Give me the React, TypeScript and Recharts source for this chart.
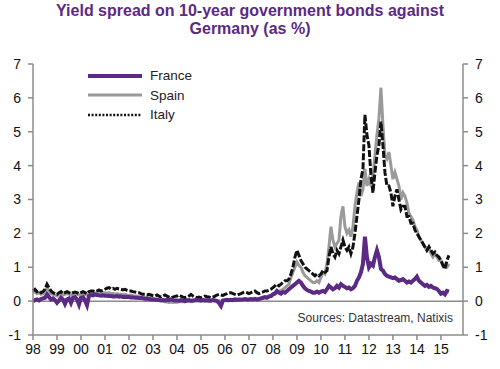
import {
  Line,
  LineChart,
  ReferenceLine,
  XAxis,
  YAxis,
} from 'recharts'

// monthly spreads vs Bund, Jan 1998 -> May 2015
const startYear = 1998

const france = [
  0.0, 0.03, 0.05, 0.02, 0.06, 0.08, 0.1, 0.2, 0.12, 0.05, 0.08, 0.03,
  -0.05, 0.02, 0.1, 0.05, -0.08, 0.05, 0.08, -0.05, 0.1, 0.12, 0.05, -0.1,
  0.1, 0.12, 0.02, -0.12, 0.15, 0.18, 0.17, 0.2, 0.18, 0.17, 0.16, 0.17,
  0.16, 0.16, 0.15, 0.15, 0.14, 0.14, 0.15, 0.13, 0.14, 0.12, 0.13, 0.12,
  0.12, 0.11, 0.11, 0.1, 0.1, 0.09, 0.1, 0.08, 0.07, 0.07, 0.06, 0.05,
  0.05, 0.04, 0.04, 0.03, 0.02, 0.03, 0.02, 0.04, 0.03, 0.05, 0.03, 0.02,
  0.02, 0.01, 0.03, 0.02, 0.0, 0.02, 0.03, 0.01, 0.02, 0.03, 0.04, 0.03,
  0.02, 0.03, 0.02, 0.03, 0.01, 0.02, 0.03, 0.02, 0.0, -0.05, -0.14, 0.02,
  0.03, 0.04, 0.03, 0.04, 0.03, 0.05, 0.04, 0.05, 0.04, 0.05, 0.06, 0.05,
  0.05, 0.06, 0.05, 0.07, 0.05, 0.06, 0.08, 0.1, 0.12, 0.1, 0.14, 0.15,
  0.2, 0.22, 0.3, 0.25, 0.22, 0.27, 0.25, 0.3, 0.35, 0.4, 0.45, 0.5,
  0.55, 0.6, 0.55, 0.45, 0.38, 0.33, 0.3, 0.28, 0.25, 0.25, 0.28, 0.25,
  0.28, 0.3, 0.27, 0.35, 0.45, 0.4, 0.35, 0.38, 0.45, 0.4, 0.5, 0.45,
  0.42, 0.38, 0.4, 0.35, 0.38, 0.45, 0.6, 0.7, 0.85, 1.1, 1.9, 1.3,
  1.0, 1.1, 1.05, 1.3, 1.5, 1.3, 0.95, 0.9, 0.8, 0.75, 0.72, 0.7,
  0.68, 0.7, 0.65, 0.6, 0.62, 0.65, 0.6, 0.55, 0.58, 0.55, 0.6, 0.65,
  0.72, 0.6, 0.55, 0.5, 0.45, 0.48, 0.42, 0.45, 0.4, 0.38, 0.36, 0.3,
  0.22, 0.25, 0.2, 0.3, 0.28,
]

const spain = [
  0.25, 0.28, 0.22, 0.25, 0.2, 0.22, 0.3, 0.4, 0.3, 0.22, 0.2, 0.18,
  0.15, 0.2, 0.22, 0.18, 0.2, 0.22, 0.2, 0.18, 0.2, 0.22, 0.2, 0.18,
  0.2, 0.22, 0.2, 0.18, 0.22, 0.25, 0.25, 0.22, 0.25, 0.28, 0.25, 0.25,
  0.25, 0.23, 0.25, 0.22, 0.23, 0.2, 0.22, 0.2, 0.2, 0.18, 0.2, 0.18,
  0.17, 0.18, 0.16, 0.15, 0.15, 0.13, 0.12, 0.12, 0.1, 0.1, 0.1, 0.08,
  0.07, 0.06, 0.05, 0.03, 0.02, 0.0, -0.02, -0.03, -0.04, -0.03, -0.04, -0.03,
  -0.03, -0.02, -0.02, -0.01, -0.02, 0.0, 0.0, -0.02, -0.01, 0.0, 0.01, 0.0,
  0.0, 0.01, 0.0, 0.0, 0.01, 0.0, 0.02, 0.01, 0.0, 0.01, 0.0, 0.02,
  0.02, 0.01, 0.02, 0.03, 0.02, 0.03, 0.02, 0.03, 0.02, 0.04, 0.03, 0.04,
  0.04, 0.03, 0.04, 0.05, 0.04, 0.05, 0.06, 0.08, 0.1, 0.1, 0.12, 0.15,
  0.22, 0.25, 0.3, 0.28, 0.32, 0.35, 0.4, 0.45, 0.5, 0.7, 0.85, 1.0,
  1.15, 1.05, 1.0, 0.85, 0.75, 0.7, 0.65, 0.6, 0.55, 0.55, 0.6, 0.55,
  0.7, 0.85, 0.8, 1.1, 1.6, 2.2, 1.8, 1.6, 1.7, 1.8, 2.5, 2.8,
  2.2, 2.0, 2.1, 1.9, 2.2, 2.8, 3.2, 3.5, 3.1, 3.3, 3.9, 3.4,
  3.6, 3.4, 3.7, 4.3, 4.9, 5.4, 6.3, 5.2, 4.3, 4.2, 4.4, 4.0,
  3.6, 3.8, 3.6, 3.4, 3.0, 3.2, 3.1, 2.9, 2.6, 2.5, 2.4, 2.2,
  2.1, 1.9, 1.8, 1.7, 1.6, 1.5, 1.6, 1.4, 1.3, 1.4, 1.3, 1.2,
  1.2, 1.1, 1.0, 1.0, 1.1,
]

const italy = [
  0.3, 0.35, 0.28, 0.3, 0.25, 0.28, 0.35, 0.5, 0.4, 0.3, 0.25, 0.22,
  0.2, 0.25, 0.28, 0.22, 0.25, 0.28, 0.25, 0.22, 0.25, 0.27, 0.25, 0.22,
  0.25, 0.28, 0.25, 0.22, 0.28, 0.3, 0.3, 0.28, 0.3, 0.33, 0.3, 0.32,
  0.35, 0.38, 0.4, 0.36, 0.38, 0.35, 0.38, 0.36, 0.35, 0.33, 0.35, 0.32,
  0.3, 0.3, 0.28, 0.27, 0.25, 0.25, 0.22, 0.2, 0.2, 0.18, 0.2, 0.18,
  0.16, 0.15, 0.18, 0.15, 0.12, 0.15, 0.18, 0.15, 0.12, 0.1, 0.12, 0.14,
  0.15, 0.18, 0.15, 0.12, 0.1, 0.12, 0.15, 0.2, 0.15, 0.12, 0.1, 0.12,
  0.1, 0.12, 0.15, 0.13, 0.12, 0.1, 0.12, 0.15, 0.18, 0.2, 0.18, 0.17,
  0.2, 0.22, 0.25, 0.25, 0.22, 0.2, 0.18, 0.2, 0.22, 0.25, 0.27, 0.25,
  0.22, 0.25, 0.27, 0.3, 0.25, 0.22, 0.25, 0.27, 0.3, 0.3, 0.32, 0.35,
  0.4, 0.45, 0.5, 0.45, 0.5, 0.55, 0.6, 0.6, 0.65, 0.8, 1.0, 1.3,
  1.5, 1.35, 1.2, 1.1, 1.0, 0.95, 0.9, 0.85, 0.8, 0.75, 0.8, 0.75,
  0.8, 0.9, 0.85, 0.9, 1.3, 1.6, 1.4, 1.3, 1.5, 1.4, 1.6, 1.8,
  1.6, 1.5, 1.6, 1.4, 1.6, 2.0, 2.5, 3.0, 3.6, 3.9, 5.5, 4.9,
  4.6, 3.7, 3.2, 3.8, 4.3, 4.6, 5.3, 4.6, 3.8, 3.4, 3.4, 3.2,
  2.8, 3.1, 3.3, 3.0, 2.7, 2.8, 2.8, 2.5, 2.5, 2.3, 2.3, 2.1,
  2.0, 1.9, 1.8, 1.7, 1.6, 1.5, 1.6, 1.5, 1.4, 1.45, 1.35, 1.3,
  1.2, 1.05, 0.95, 1.2, 1.35,
]

const yearLabels = ['98', '99', '00', '01', '02', '03', '04', '05', '06', '07', '08', '09', '10', '11', '12', '13', '14', '15']
const yTicks = [-1, 0, 1, 2, 3, 4, 5, 6, 7]

const font = 'Arial, "Liberation Sans", sans-serif'
const purple = '#5b2a84'

const data = france.map((v, i) => ({
  t: startYear + i / 12,
  france: v,
  spain: spain[i],
  italy: italy[i],
}))

const legendItems = [
  { name: 'France', color: purple, width: 4, dash: undefined },
  { name: 'Spain', color: '#9a9a9a', width: 3, dash: undefined },
  { name: 'Italy', color: '#111', width: 2.5, dash: '2 1.6' },
]

function SpreadLegend() {
  return (
    <div style={{ position: 'absolute', top: 66, left: 86, fontFamily: font, fontSize: 13.5, color: '#222' }}>
      {legendItems.map((item) => (
        <div key={item.name} style={{ display: 'flex', alignItems: 'center', height: 19.5 }}>
          <svg width={58} height={8}>
            <line x1={2} y1={4} x2={56} y2={4} stroke={item.color} strokeWidth={item.width} strokeDasharray={item.dash} />
          </svg>
          <span style={{ marginLeft: 6 }}>{item.name}</span>
        </div>
      ))}
    </div>
  )
}

export default function App() {
  const axisStyle = { stroke: '#8c8c8c', strokeWidth: 1.5 }
  const tickStyle = { fontSize: 14, fill: '#111', fontFamily: font }

  return (
    <div style={{ position: 'absolute', top: 0, left: 0, width: 500, height: 369, background: '#fff' }}>
      <div
        style={{
          position: 'absolute',
          top: 2,
          left: 0,
          width: 500,
          textAlign: 'center',
          fontFamily: font,
          fontWeight: 'bold',
          fontSize: 16,
          lineHeight: '18px',
          color: purple,
        }}
      >
        Yield spread on 10-year government bonds against
        <br />
        Germany (as %)
      </div>

      <LineChart width={500} height={369} data={data} margin={{ top: 64, right: 7, left: 3, bottom: 4 }}>
        <XAxis
          dataKey="t"
          type="number"
          domain={[startYear, 2015.92]}
          ticks={yearLabels.map((_, i) => startYear + i)}
          tickFormatter={(v) => yearLabels[Math.round(v - startYear)]}
          axisLine={axisStyle}
          tickLine={axisStyle}
          tickSize={5}
          tickMargin={4}
          tick={tickStyle}
          height={30}
          interval={0}
        />
        <YAxis
          yAxisId="left"
          domain={[-1, 7]}
          ticks={yTicks}
          axisLine={axisStyle}
          tickLine={axisStyle}
          tickSize={5}
          tickMargin={7}
          tick={tickStyle}
          width={30}
          interval={0}
        />
        <YAxis
          yAxisId="right"
          orientation="right"
          domain={[-1, 7]}
          ticks={yTicks}
          axisLine={axisStyle}
          tickLine={axisStyle}
          tickSize={5}
          tickMargin={7}
          tick={tickStyle}
          width={30}
          interval={0}
        />
        <ReferenceLine yAxisId="left" y={0} stroke="#8c8c8c" strokeWidth={1.5} />
        <Line yAxisId="right" dataKey="spain" stroke="#9a9a9a" strokeWidth={3} dot={false} isAnimationActive={false} />
        <Line yAxisId="left" dataKey="italy" stroke="#111" strokeWidth={3} strokeDasharray="7 2" dot={false} isAnimationActive={false} />
        <Line yAxisId="left" dataKey="france" stroke={purple} strokeWidth={4} dot={false} isAnimationActive={false} />
      </LineChart>

      <SpreadLegend />

      <div
        style={{
          position: 'absolute',
          top: 311,
          right: 47,
          fontFamily: font,
          fontSize: 12,
          color: '#333',
        }}
      >
        Sources: Datastream, Natixis
      </div>
    </div>
  )
}
